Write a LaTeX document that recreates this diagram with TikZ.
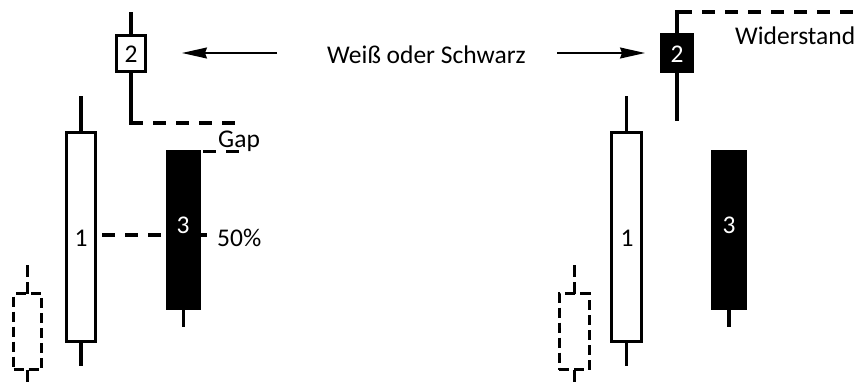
\documentclass[tikz,border=0pt]{standalone}
\usepackage{fontspec}
\setmainfont{Carlito}
\usetikzlibrary{arrows.meta}
\begin{document}
\begin{tikzpicture}[x=1pt,y=-1pt,
  body/.style={draw,line width=3.5pt,inner sep=0pt,outer sep=0pt,rectangle},
  wbody/.style={body,fill=white},
  bbody/.style={body,fill=black},
  ghost/.style={draw,line width=3pt,inner sep=0pt,outer sep=0pt,rectangle,dash pattern=on 10pt off 5pt},
  wick/.style={line width=3.3pt},
  gwick/.style={line width=3pt,dash pattern=on 12pt off 5pt},
  dline/.style={line width=3.3pt,dash pattern=on 13pt off 10pt},
  lbl/.style={font=\fontsize{25.5}{30}\selectfont,inner sep=0pt,anchor=base},
  lblw/.style={lbl,anchor=base west},
  arr/.style={line width=1.4pt,-{Stealth[length=25pt,width=11pt,inset=2pt]}}
]
\useasboundingbox (0,0) rectangle (861,383);

% ---------- left group ----------
\node[ghost,minimum width=28pt,minimum height=76pt] (G1) at (27.5,331.5) {};
\draw[gwick] (G1.north) -- ++(0,-28.5);
\draw[gwick] (G1.south) -- ++(0,16);

\node[wbody,minimum width=29pt,minimum height=209pt] (L1) at (81,237) {};
\draw[wick] (L1.north) -- ++(0,-36.5);
\draw[wick] (L1.south) -- ++(0,24.5);
\node[lbl] (t1l) at (81,246) {1};

\node[wbody,minimum width=29pt,minimum height=36pt] (L2) at (131,53.5) {};
\draw[wick] (L2.north) -- ++(0,-23.5);
\coordinate (gapc) at (131,123);
\draw[wick,line join=miter] (L2.south) -- (gapc) -- ++(12,0);
\coordinate (gaps) at (153,123);
\draw[dline] (gaps) -- ++(85,0);
\node[lbl] (t2l) at (131,62) {2};

% 50% line (behind candle 3)
\coordinate (m1) at (102,235);
\coordinate (m2) at (208,235);
\draw[dline] (m1) -- (m2);

\node[bbody,minimum width=31.7pt,minimum height=157pt] (L3) at (183.3,230) {};
\draw[wick] (L3.south) -- ++(0,18.5);
\draw[dline] ([xshift=4pt]L3.north east) -- ++(37,0);
\node[lbl,text=white] (t3l) at (183,233) {3};

\node[lblw] (gap) at (218,147) {Gap};
\node[lblw] (p50) at (217,246) {50\%};

% ---------- middle ----------
\node[lblw] (wos) at (327,63) {Weiß oder Schwarz};
\coordinate (a1s) at (277,53);
\coordinate (a1e) at (182,53);
\coordinate (a2s) at (557,53);
\coordinate (a2e) at (645,53);
\draw[arr] (a1s) -- (a1e);
\draw[arr] (a2s) -- (a2e);

% ---------- right group ----------
\node[ghost,minimum width=30pt,minimum height=76pt] (G2) at (574,331.5) {};
\draw[gwick] (G2.north) -- ++(0,-28.5);
\draw[gwick] (G2.south) -- ++(0,16);

\node[wbody,minimum width=30pt,minimum height=209pt] (R1) at (626.5,237) {};
\draw[wick] (R1.north) -- ++(0,-36.5);
\draw[wick] (R1.south) -- ++(0,24.5);
\node[lbl] (t1r) at (627,246) {1};

\node[bbody,minimum width=31pt,minimum height=37pt] (R2) at (677,53) {};
\coordinate (wc) at (677,12);
\draw[wick,line join=miter] (R2.south) -- ++(0,49.5);
\draw[wick,line join=miter] (R2.north) -- (wc) -- ++(15,0);
\coordinate (ws) at (702,12);
\draw[dline] (ws) -- (861,12);
\node[lbl,text=white] (t2r) at (677,62) {2};
\node[lblw] (wid) at (735,44) {Widerstand};

\node[bbody,minimum width=32pt,minimum height=157pt] (R3) at (729,230) {};
\draw[wick] (R3.south) -- ++(0,18.5);
\node[lbl,text=white] (t3r) at (729,233) {3};
\end{tikzpicture}
\end{document}
